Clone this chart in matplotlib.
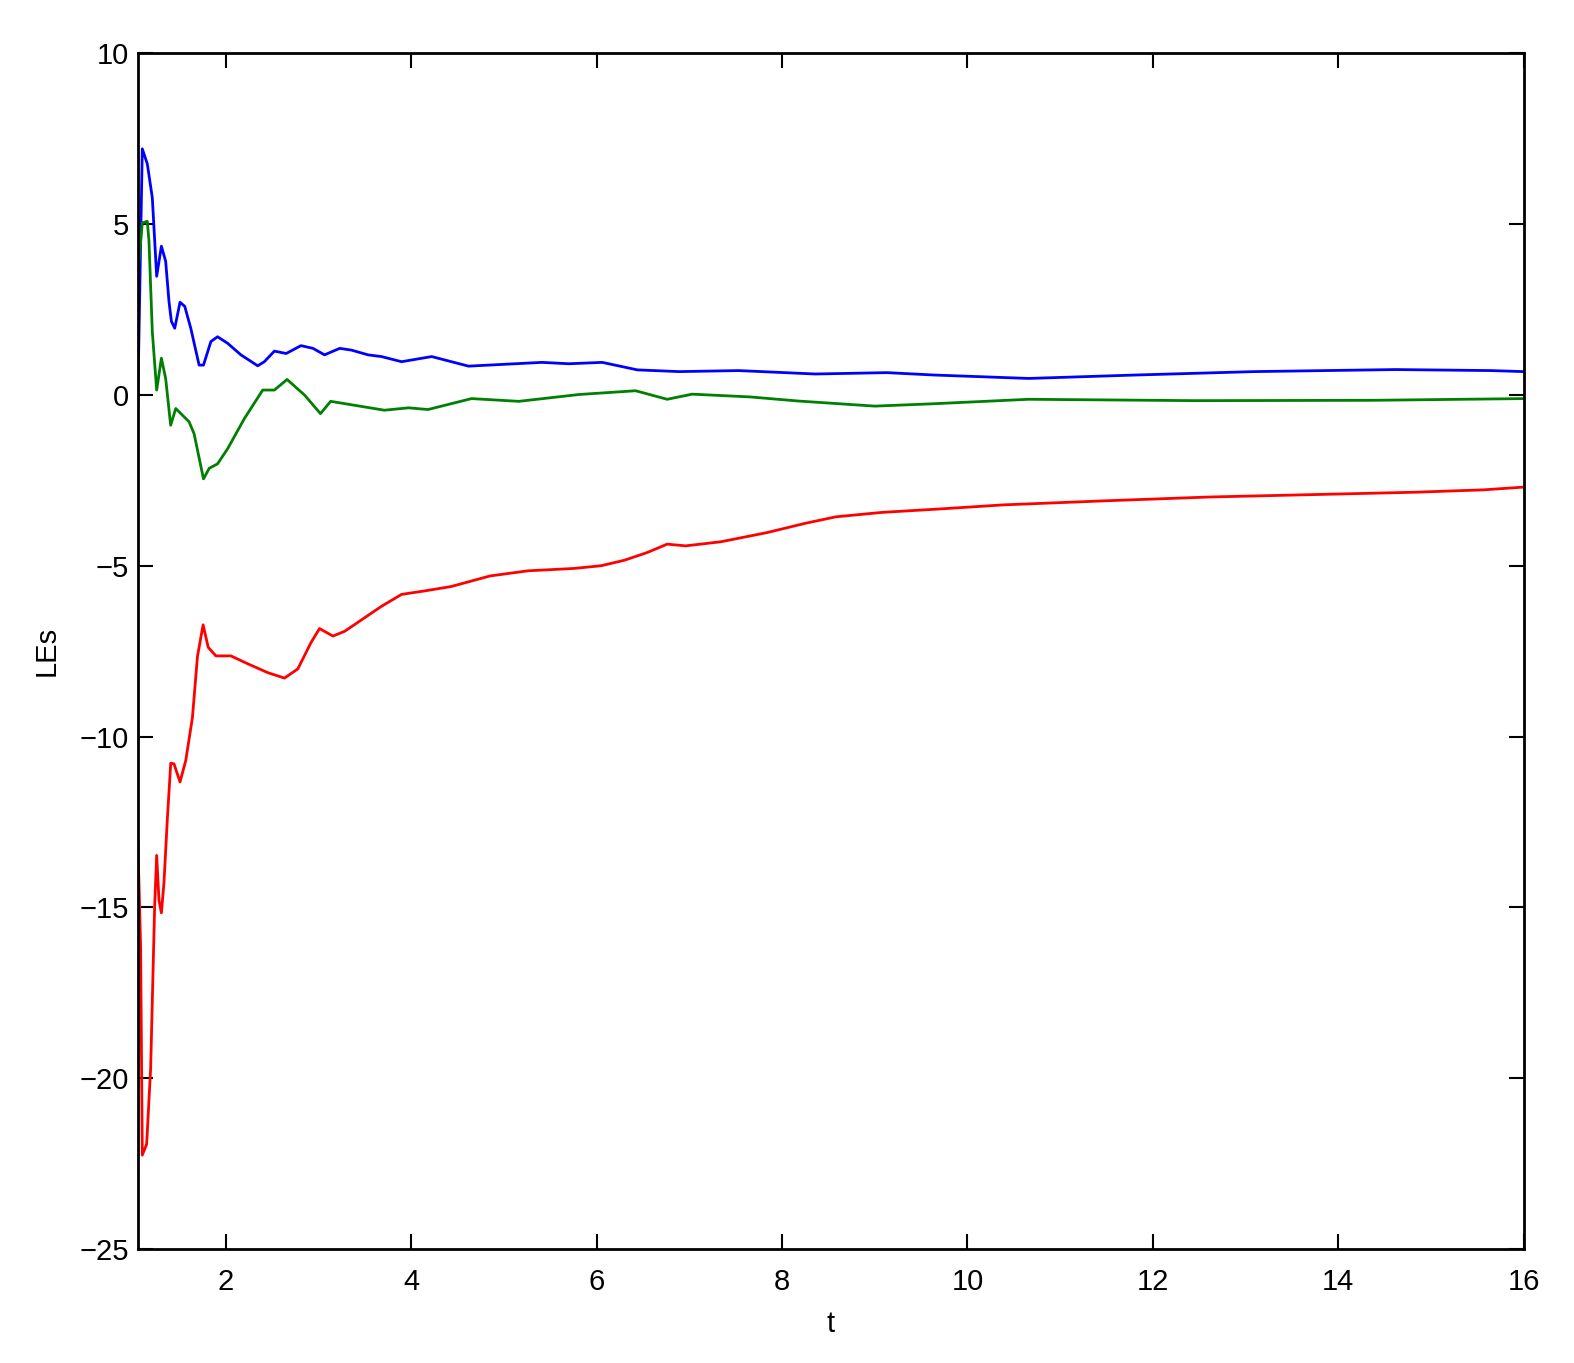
import matplotlib
matplotlib.use("Agg")
import matplotlib.pyplot as plt

# Lyapunov exponents
t_le1 = [1.047, 1.098, 1.152, 1.206, 1.253, 1.304, 1.35, 1.386, 1.412, 1.448,
         1.505, 1.556, 1.621, 1.711, 1.758, 1.838, 1.91, 2.018, 2.162, 2.343,
         2.415, 2.523, 2.65, 2.81, 2.94, 3.064, 3.227, 3.353, 3.534, 3.678,
         3.895, 4.22, 4.617, 5.41, 5.70, 6.06, 6.44, 6.89, 7.53, 8.36,
         9.13, 9.64, 10.66, 11.81, 13.09, 14.62, 15.65, 16.0]
le1 = [-0.55, 7.2, 6.76, 5.77, 3.47, 4.35, 3.91, 2.73, 2.15, 1.95,
       2.71, 2.59, 1.95, 0.87, 0.87, 1.56, 1.70, 1.51, 1.17, 0.85,
       0.97, 1.28, 1.21, 1.44, 1.36, 1.17, 1.36, 1.31, 1.17, 1.12,
       0.97, 1.12, 0.84, 0.95, 0.91, 0.95, 0.73, 0.68, 0.71, 0.61,
       0.65, 0.58, 0.48, 0.58, 0.68, 0.74, 0.71, 0.68]

t_le2 = [1.047, 1.098, 1.152, 1.17, 1.206, 1.253, 1.304, 1.35, 1.404, 1.459,
         1.603, 1.657, 1.758, 1.82, 1.91, 2.018, 2.198, 2.397, 2.523, 2.66,
         2.85, 3.02, 3.13, 3.71, 3.97, 4.18, 4.65, 5.16, 5.81, 6.42,
         6.76, 7.03, 7.65, 8.17, 9.0, 9.64, 10.66, 12.45, 14.37, 16.0]
le2 = [3.47, 5.03, 5.08, 4.5, 1.85, 0.14, 1.07, 0.48, -0.89, -0.40,
       -0.79, -1.14, -2.46, -2.15, -2.02, -1.58, -0.70, 0.14, 0.14, 0.45,
       -0.01, -0.55, -0.19, -0.45, -0.38, -0.43, -0.11, -0.19, 0.01, 0.12,
       -0.13, 0.02, -0.06, -0.18, -0.33, -0.26, -0.13, -0.17, -0.16, -0.11]

t_le3 = [1.05, 1.08, 1.098, 1.145, 1.188, 1.231, 1.253, 1.278, 1.304, 1.332,
         1.369, 1.405, 1.44, 1.505, 1.567, 1.639, 1.693, 1.754, 1.809, 1.892,
         2.054, 2.235, 2.451, 2.632, 2.776, 2.92, 3.01, 3.155, 3.281, 3.678,
         3.895, 4.14, 4.43, 4.85, 5.26, 5.76, 6.05, 6.30, 6.55, 6.76,
         6.96, 7.34, 7.84, 8.25, 8.58, 9.08, 9.70, 10.39, 11.5, 12.61,
         13.72, 14.83, 15.57, 16.0]
le3 = [-13.06, -16.16, -22.25, -21.93, -19.72, -15.0, -13.48, -14.79, -15.16, -14.27,
       -12.38, -10.78, -10.8, -11.33, -10.7, -9.44, -7.66, -6.73, -7.39, -7.64,
       -7.64, -7.87, -8.13, -8.29, -8.02, -7.24, -6.84, -7.06, -6.92, -6.19,
       -5.84, -5.74, -5.61, -5.30, -5.15, -5.08, -5.0, -4.84, -4.61, -4.37,
       -4.42, -4.30, -4.03, -3.76, -3.57, -3.44, -3.34, -3.22, -3.10, -2.99,
       -2.92, -2.85, -2.78, -2.70]

x_ticks = [2, 4, 6, 8, 10, 12, 14, 16]
y_ticks = [-25, -20, -15, -10, -5, 0, 5, 10]

plt.rcParams["font.family"] = ["Liberation Sans", "DejaVu Sans"]
plt.rcParams["font.size"] = 21
plt.rcParams["axes.unicode_minus"] = True

fig = plt.figure(figsize=(15.74, 13.63), dpi=100)
ax = fig.add_axes([0.0874, 0.0836, 0.8806, 0.8774])

ax.plot(t_le1, le1, color="#0000ff", lw=2)
ax.plot(t_le2, le2, color="#008000", lw=2)
ax.plot(t_le3, le3, color="#ff0000", lw=2)

ax.set_xlim(1.047, 16)
ax.set_ylim(-25, 10)
ax.set_xticks(x_ticks)
ax.set_yticks(y_ticks)
ax.tick_params(direction="in", length=11, width=1.5, top=True, right=True)
ax.tick_params(axis="x", pad=14)
ax.tick_params(axis="y", pad=6)
for s in ax.spines.values():
    s.set_linewidth(2)

ax.set_xlabel("t", labelpad=10)
ax.set_ylabel("LEs", labelpad=14)

fig.savefig("out.png", dpi=100)
